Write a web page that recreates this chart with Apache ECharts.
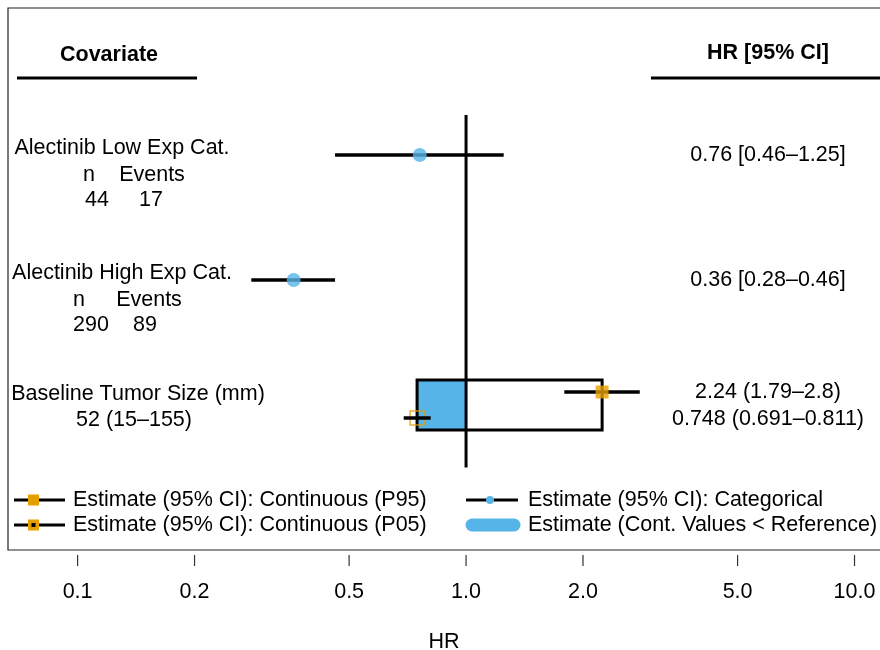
<!DOCTYPE html>
<html>
<head>
<meta charset="utf-8">
<script src="https://cdn.jsdelivr.net/npm/echarts@6/dist/echarts.min.js"></script>
<style>
html, body { margin: 0; padding: 0; background: #fff; }
#chart { width: 880px; height: 650px; }
</style>
</head>
<body>
<div id="chart"></div>
<script>
// Categorical exposure rows
const catLabels = ['Alectinib Low Exp Cat.', 'Alectinib High Exp Cat.'];
const catN = [44, 290];
const catEvents = [17, 89];
const catHR = [0.76, 0.36];
const catLo = [0.46, 0.28];
const catHi = [1.25, 0.46];

// Continuous covariate row (P95 / P05 of the covariate vs. median reference)
const contLabel = 'Baseline Tumor Size (mm)';
const contSummary = '52 (15–155)';
const p95Est = [2.24, 1.79, 2.8];     // HR, lower, upper
const p05Est = [0.748, 0.691, 0.811]; // HR, lower, upper
const refHR = 1;

// Axis ticks
const tickValues = [0.1, 0.2, 0.5, 1, 2, 5, 10];
const tickLabels = ['0.1', '0.2', '0.5', '1.0', '2.0', '5.0', '10.0'];

// Legend entries
const legendItems = [
  'Estimate (95% CI): Continuous (P95)',
  'Estimate (95% CI): Continuous (P05)',
  'Estimate (95% CI): Categorical',
  'Estimate (Cont. Values < Reference)'
];

const BLUE = '#56B4E9';
const ORANGE = '#E69F00';
const FONT = '"Liberation Sans", Arial, Helvetica, sans-serif';
const FS = 21.5;

// Row positions on the vertical (row-unit) axis
const catRows = [1, 2];
const contRow = 3;
const boxHalf = 0.2;
const ciOffset = 0.104;
const yMin = -0.176, yMax = 4.16;

const chart = echarts.init(document.getElementById('chart'), null, { renderer: 'canvas' });

// CI segments: [lower, upper, row]
const ciData = [
  [catLo[0], catHi[0], catRows[0]],
  [catLo[1], catHi[1], catRows[1]],
  [p95Est[1], p95Est[2], contRow - ciOffset],
  [p05Est[1], p05Est[2], contRow + ciOffset]
];

function txt(x, y, s, style) {
  return {
    type: 'text', x: x, y: y,
    style: Object.assign({
      text: s, font: FS + 'px ' + FONT, fill: '#000',
      align: 'center', verticalAlign: 'middle'
    }, style || {})
  };
}
function line(x1, y1, x2, y2, w, color) {
  return {
    type: 'line', shape: { x1: x1, y1: y1, x2: x2, y2: y2 },
    style: { stroke: color || '#000', lineWidth: w }
  };
}

const graphics = [];
// Plot frame (open on the right, running past the canvas edge)
graphics.push({ type: 'rect', shape: { x: 8, y: 8, width: 900, height: 542 },
  style: { fill: 'none', stroke: '#222', lineWidth: 1.2 } });

// Column headers
graphics.push(txt(109, 55, 'Covariate', { font: 'bold ' + FS + 'px ' + FONT }));
graphics.push(line(17, 78, 197, 78, 3));
graphics.push(txt(768, 53, 'HR [95% CI]', { font: 'bold ' + FS + 'px ' + FONT }));
graphics.push(line(651, 78, 882, 78, 3));

// Covariate descriptions and estimates text
const catTitleY = [148, 273];
const nColX = [[89, 152, 97, 151], [79, 149, 91, 145]];
for (let i = 0; i < catLabels.length; i++) {
  const y = catTitleY[i];
  graphics.push(txt(122, y, catLabels[i]));
  graphics.push(txt(nColX[i][0], y + 27, 'n'));
  graphics.push(txt(nColX[i][1], y + 27, 'Events'));
  graphics.push(txt(nColX[i][2], y + 52, String(catN[i])));
  graphics.push(txt(nColX[i][3], y + 52, String(catEvents[i])));
  graphics.push(txt(768, y + 7, catHR[i] + ' [' + catLo[i] + '–' + catHi[i] + ']'));
}
graphics.push(txt(138, 394, contLabel));
graphics.push(txt(134, 420, contSummary));
graphics.push(txt(768, 392, p95Est[0] + ' (' + p95Est[1] + '–' + p95Est[2] + ')'));
graphics.push(txt(768, 419, p05Est[0] + ' (' + p05Est[1] + '–' + p05Est[2] + ')'));

// Legend
const legY = [500, 525];
graphics.push(line(14, legY[0], 65, legY[0], 3));
graphics.push({ type: 'rect', shape: { x: 28, y: legY[0] - 5.5, width: 11, height: 11 }, style: { fill: ORANGE } });
graphics.push(line(14, legY[1], 65, legY[1], 3));
graphics.push({ type: 'rect', shape: { x: 28, y: legY[1] - 5.5, width: 11, height: 11 }, style: { fill: ORANGE } });
graphics.push({ type: 'rect', shape: { x: 31.5, y: legY[1] - 2, width: 4, height: 4 }, style: { fill: '#000' } });
graphics.push(line(466, legY[0], 518, legY[0], 3));
graphics.push({ type: 'circle', shape: { cx: 490, cy: legY[0], r: 4 }, style: { fill: BLUE } });
graphics.push({ type: 'line', shape: { x1: 472, y1: legY[1], x2: 514, y2: legY[1] },
  style: { stroke: BLUE, lineWidth: 13, lineCap: 'round' } });
graphics.push(txt(73, legY[0], legendItems[0], { align: 'left' }));
graphics.push(txt(73, legY[1], legendItems[1], { align: 'left' }));
graphics.push(txt(528, legY[0], legendItems[2], { align: 'left' }));
graphics.push(txt(528, legY[1], legendItems[3], { align: 'left' }));

const option = {
  backgroundColor: '#fff',
  animation: false,
  grid: { left: 8, top: 8, right: 0, height: 542, show: false, outerBoundsMode: 'none', containLabel: false },
  xAxis: {
    type: 'log', logBase: 10,
    min: 0.0662, max: 11.63,
    position: 'bottom',
    offset: 5,
    axisLine: { show: false },
    splitLine: { show: false },
    axisTick: { show: false },
    axisLabel: {
      customValues: tickValues,
      margin: 26,
      fontSize: FS, fontFamily: FONT, color: '#000',
      formatter: function (v) {
        const i = tickValues.findIndex(function (t) { return Math.abs(t - v) < 1e-9; });
        return i >= 0 ? tickLabels[i] : '';
      }
    },
    name: 'HR', nameLocation: 'middle', nameGap: 76,
    nameTextStyle: { fontSize: FS, fontFamily: FONT, color: '#000' }
  },
  yAxis: {
    type: 'value', inverse: true,
    min: yMin, max: yMax,
    show: false
  },
  graphic: { elements: graphics },
  series: [
    {
      // Tick marks below the frame at each labelled HR value
      type: 'custom', z: 1, clip: false, silent: true,
      data: tickValues.map(function (v) { return [v, yMax]; }),
      renderItem: function (params, api) {
        const p = api.coord([api.value(0), api.value(1)]);
        return {
          type: 'line',
          shape: { x1: p[0], y1: p[1] + 5, x2: p[0], y2: p[1] + 16 },
          style: { stroke: '#333', lineWidth: 1.2 }
        };
      }
    },
    {
      // Box spanning P05..P95 estimates, shaded where HR < reference
      type: 'custom', z: 1,
      data: [[p05Est[0], p95Est[0], contRow]],
      renderItem: function (params, api) {
        const lo = api.value(0), hi = api.value(1), r = api.value(2);
        const a = api.coord([lo, r - boxHalf]);
        const b = api.coord([hi, r + boxHalf]);
        const ref = api.coord([refHR, r]);
        return {
          type: 'group',
          children: [
            { type: 'rect', shape: { x: a[0], y: a[1], width: ref[0] - a[0], height: b[1] - a[1] },
              style: { fill: BLUE } },
            { type: 'rect', shape: { x: a[0], y: a[1], width: b[0] - a[0], height: b[1] - a[1] },
              style: { fill: 'none', stroke: '#000', lineWidth: 3 } }
          ]
        };
      }
    },
    {
      // P05 estimate marker (hollow)
      type: 'scatter', z: 2,
      symbol: 'rect', symbolSize: 14,
      itemStyle: { color: 'rgba(0,0,0,0)', borderColor: ORANGE, borderWidth: 1.5 },
      data: [[p05Est[0], contRow + ciOffset]]
    },
    {
      // Confidence interval segments
      type: 'custom', z: 3,
      data: ciData,
      renderItem: function (params, api) {
        const p1 = api.coord([api.value(0), api.value(2)]);
        const p2 = api.coord([api.value(1), api.value(2)]);
        return {
          type: 'line',
          shape: { x1: p1[0], y1: p1[1], x2: p2[0], y2: p2[1] },
          style: { stroke: '#000', lineWidth: 3.5 }
        };
      }
    },
    {
      // Reference line at HR = 1
      type: 'line', z: 3,
      symbol: 'none',
      lineStyle: { color: '#000', width: 3 },
      data: [[refHR, 0.68], [refHR, 3.5]]
    },
    {
      // P95 estimate marker
      type: 'scatter', z: 4,
      symbol: 'rect', symbolSize: 13,
      itemStyle: { color: ORANGE },
      data: [[p95Est[0], contRow - ciOffset]]
    },
    {
      // Categorical point estimates
      type: 'scatter', z: 4,
      symbolSize: 14,
      itemStyle: { color: BLUE },
      data: catHR.map(function (v, i) { return [v, catRows[i]]; })
    }
  ]
};
chart.setOption(option);
</script>
</body>
</html>
